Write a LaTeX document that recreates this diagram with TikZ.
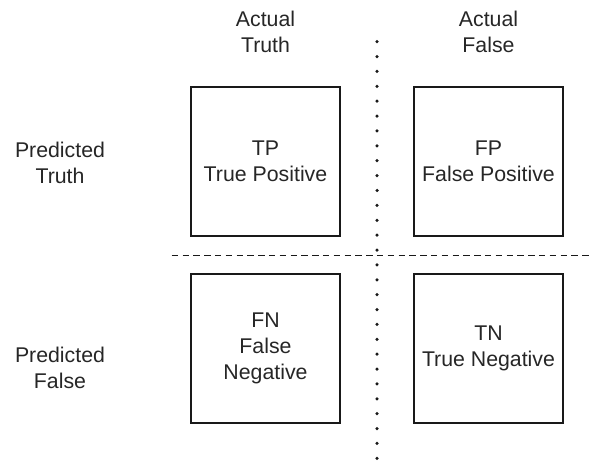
\documentclass[tikz,border=0pt]{standalone}
\usepackage{fontspec}
\setmainfont{Liberation Sans}
\begin{document}
\begin{tikzpicture}[x=1pt,y=-1pt,
  every node/.style={font=\fontsize{21.3}{26}\selectfont, text=black!85, align=center, inner sep=0pt},
  cell/.style={draw=black!90, line width=1.3pt, minimum width=149pt, minimum height=149pt},
  divider/.style={draw=black!90, line width=1.2pt, dash pattern=on 6.5pt off 4.3pt},
  dotline/.style={draw=black!90, line width=3.5pt, line cap=round, dash pattern=on 0pt off 14.88pt}]
  \useasboundingbox (0,0) rectangle (592,462);

  % the four outcome cells
  \node[cell] (tp) at (265.5,161.5) {TP\\True Positive};
  \node[cell] (fp) at (488.5,161.5) {FP\\False Positive};
  \node[cell] (fn) at (265.5,348.5) {FN\\False\\Negative};
  \node[cell] (tn) at (488.5,348.5) {TN\\True Negative};

  % column and row headings
  \node[anchor=north] (at) at (265.5,11.3) {Actual\\Truth};
  \node[anchor=north] (af) at (488.5,11.3) {Actual\\False};
  \node[anchor=north] (pt) at (60,141.7) {Predicted\\Truth};
  \node[anchor=north] (pf) at (60,346.7) {Predicted\\False};

  % separators between the quadrants
  \coordinate (hl) at (171.7,255.5);
  \coordinate (hr) at (594,255.5);
  \coordinate (vt) at (377,41.7);
  \coordinate (vb) at (377,458.4);
  \draw[divider] (hl) -- (hr);
  \draw[dotline] (vt) -- (vb);
\end{tikzpicture}
\end{document}
